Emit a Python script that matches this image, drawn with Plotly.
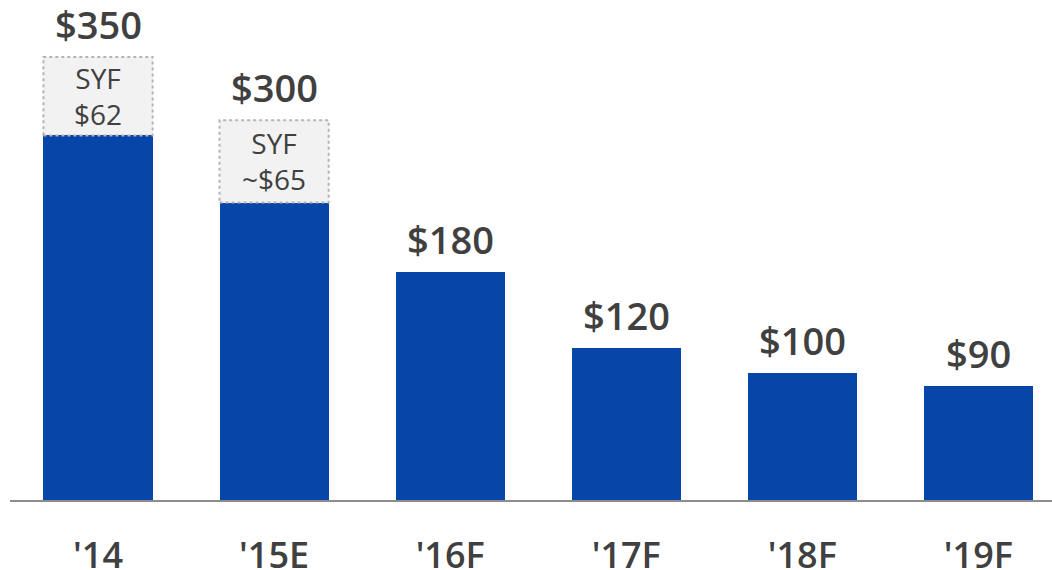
import plotly.graph_objects as go

# データ
categories = ["'14", "'15E", "'16F", "'17F", "'18F", "'19F"]
totals = [350, 300, 180, 120, 100, 90]
syf = [62, 65, 0, 0, 0, 0]
total_labels = ["$350", "$300", "$180", "$120", "$100", "$90"]
syf_labels = ["SYF<br>$62", "SYF<br>~$65", "", "", "", ""]

blue = [t - s for t, s in zip(totals, syf)]
xs = list(range(len(categories)))
bar_w = 0.62
font_family = "Open Sans, DejaVu Sans, sans-serif"
text_color = "#404040"

fig = go.Figure()

# 青い棒
fig.add_trace(go.Bar(
    x=xs, y=blue, width=bar_w,
    marker=dict(color="#0845A8", line=dict(width=0)),
    hoverinfo="skip",
))

# SYF 部分
fig.add_trace(go.Bar(
    x=xs, y=syf, width=bar_w,
    marker=dict(color="#F2F2F2", line=dict(width=0)),
    hoverinfo="skip",
))

# SYF の点線枠
for i, (b, s) in enumerate(zip(blue, syf)):
    if s > 0:
        fig.add_shape(
            type="rect", xref="x", yref="y",
            x0=i - bar_w / 2, x1=i + bar_w / 2, y0=b, y1=b + s,
            line=dict(color="#B4B4B4", width=2, dash="dot"),
            fillcolor="rgba(0,0,0,0)",
        )

# SYF ラベル
for i, (b, s, t) in enumerate(zip(blue, syf, syf_labels)):
    if s > 0:
        fig.add_annotation(
            x=i, y=b + s / 2, text=t, showarrow=False,
            font=dict(size=28, color=text_color, family=font_family),
            align="center",
        )

# 合計ラベル
for i, (v, t) in enumerate(zip(totals, total_labels)):
    fig.add_annotation(
        x=i, y=v, text=t, showarrow=False,
        yanchor="bottom", yshift=5,
        font=dict(size=38, color=text_color, family=font_family, weight=600),
    )

fig.update_layout(
    barmode="stack",
    showlegend=False,
    width=1052, height=570,
    margin=dict(l=10, r=0, t=0, b=70, autoexpand=False),
    plot_bgcolor="white", paper_bgcolor="white",
    xaxis=dict(
        tickvals=xs, ticktext=categories,
        range=[-0.5, 5.418], automargin=False,
        showgrid=False, zeroline=False,
        showline=True, linecolor="#8C8C8C", linewidth=2,
        ticks="", ticklabelstandoff=23,
        tickfont=dict(size=36, color=text_color, family=font_family, weight=600),
    ),
    yaxis=dict(
        range=[0, 395], visible=False, automargin=False,
    ),
)

# ページ余白を消す
fig.write_html(
    "out.html",
    config=dict(displayModeBar=False),
    post_script="document.body.style.margin='0';",
)
